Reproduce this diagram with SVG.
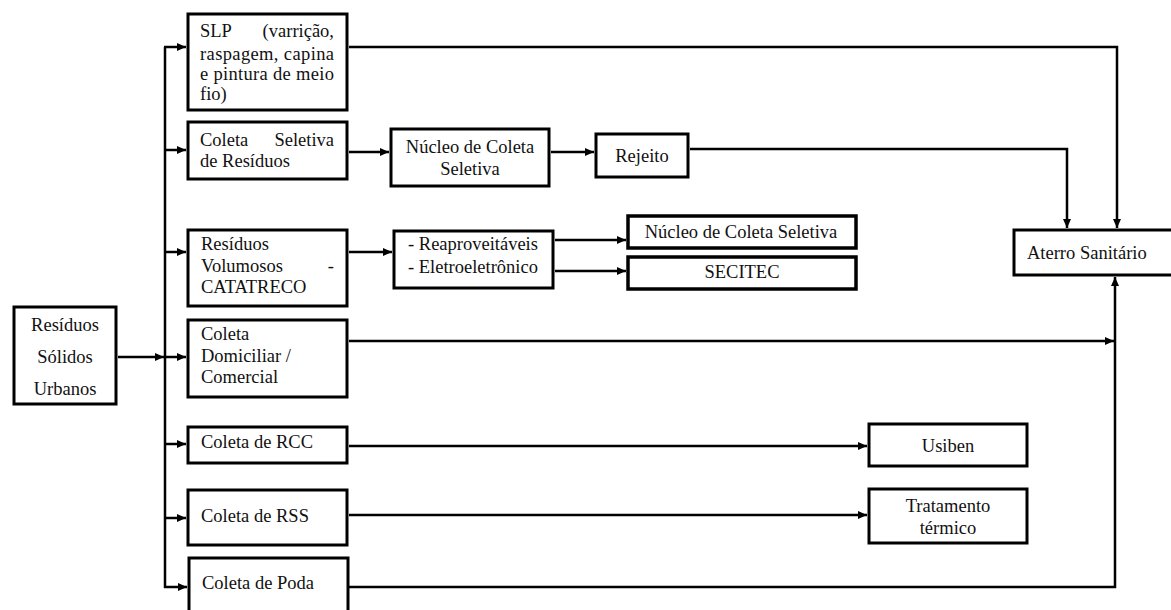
<svg xmlns="http://www.w3.org/2000/svg" width="1171" height="610" viewBox="0 0 1171 610">
<style>
.box{fill:#fff;stroke:#000;stroke-width:3}
.t{font-family:"Liberation Serif","Times New Roman",serif;font-size:18.5px;fill:#111}
.c{text-anchor:middle}
.ln{fill:none;stroke:#000;stroke-width:2.5}
</style>
<defs>
<marker id="ar" markerUnits="userSpaceOnUse" markerWidth="10" markerHeight="10" refX="9" refY="4" orient="auto">
<path d="M0,0 L9,4 L0,8 z" fill="#000"/>
</marker>
</defs>
<g id="connectors">
<line class="ln" x1="165" y1="47" x2="165" y2="588"/>
<line class="ln" x1="164" y1="47" x2="186" y2="47" marker-end="url(#ar)"/>
<line class="ln" x1="164" y1="150" x2="186" y2="150" marker-end="url(#ar)"/>
<line class="ln" x1="164" y1="252" x2="186" y2="252" marker-end="url(#ar)"/>
<line class="ln" x1="118" y1="357" x2="164" y2="357" marker-end="url(#ar)"/>
<line class="ln" x1="164" y1="357" x2="186" y2="357" marker-end="url(#ar)"/>
<line class="ln" x1="164" y1="444" x2="186" y2="444" marker-end="url(#ar)"/>
<line class="ln" x1="164" y1="518" x2="186" y2="518" marker-end="url(#ar)"/>
<line class="ln" x1="164" y1="587" x2="187" y2="587" marker-end="url(#ar)"/>
<polyline class="ln" points="349,47 1117,47 1117,228" marker-end="url(#ar)"/>
<line class="ln" x1="349" y1="152" x2="389" y2="152" marker-end="url(#ar)"/>
<line class="ln" x1="551" y1="152" x2="594" y2="152" marker-end="url(#ar)"/>
<polyline class="ln" points="690,149 1067,149 1067,228" marker-end="url(#ar)"/>
<line class="ln" x1="349" y1="252" x2="392" y2="252" marker-end="url(#ar)"/>
<line class="ln" x1="555" y1="240" x2="626" y2="240" marker-end="url(#ar)"/>
<line class="ln" x1="555" y1="271" x2="626" y2="271" marker-end="url(#ar)"/>
<line class="ln" x1="349" y1="341" x2="1114" y2="341" marker-end="url(#ar)"/>
<line class="ln" x1="349" y1="446" x2="867" y2="446" marker-end="url(#ar)"/>
<line class="ln" x1="349" y1="515" x2="867" y2="515" marker-end="url(#ar)"/>
<polyline class="ln" points="349,587 1115,587 1115,277" marker-end="url(#ar)"/>
</g>
<g id="slp">
<rect class="box" x="188" y="14" width="159" height="96"/>
<text class="t" y="37"><tspan x="200">SLP</tspan><tspan x="334" text-anchor="end">(varrição,</tspan></text>
<text class="t" x="200" y="60" textLength="134" lengthAdjust="spacing">raspagem, capina</text>
<text class="t" x="200" y="80" textLength="134" lengthAdjust="spacing">e pintura de meio</text>
<text class="t" x="200" y="100">fio)</text>
</g>
<g id="coleta-seletiva">
<rect class="box" x="188" y="122" width="159" height="57"/>
<text class="t" y="146"><tspan x="200">Coleta</tspan><tspan x="334" text-anchor="end">Seletiva</tspan></text>
<text class="t" x="200" y="167">de Resíduos</text>
</g>
<g id="nucleo1">
<rect class="box" x="391" y="129" width="158" height="57"/>
<text class="t c" x="470" y="153">Núcleo de Coleta</text>
<text class="t c" x="470" y="175">Seletiva</text>
</g>
<g id="rejeito">
<rect class="box" x="596" y="134" width="92" height="43"/>
<text class="t c" x="642" y="162">Rejeito</text>
</g>
<g id="volumosos">
<rect class="box" x="188" y="230" width="159" height="76"/>
<text class="t" x="201" y="250">Resíduos</text>
<text class="t" y="272"><tspan x="201">Volumosos</tspan><tspan x="334" text-anchor="end">-</tspan></text>
<text class="t" x="201" y="293">CATATRECO</text>
</g>
<g id="reaproveitaveis">
<rect class="box" x="394" y="231" width="159" height="57"/>
<text class="t" x="408" y="250">- Reaproveitáveis</text>
<text class="t" x="408" y="273">- Eletroeletrônico</text>
</g>
<g id="nucleo2">
<rect class="box" x="628" y="216" width="228" height="32" style="stroke-width:3.5"/>
<text class="t c" x="741" y="238">Núcleo de Coleta Seletiva</text>
</g>
<g id="secitec">
<rect class="box" x="628" y="257" width="228" height="32" style="stroke-width:3.5"/>
<text class="t c" x="742" y="278">SECITEC</text>
</g>
<g id="aterro">
<rect class="box" x="1014" y="230" width="170" height="45"/>
<text class="t" x="1027" y="259">Aterro Sanitário</text>
</g>
<g id="rsu">
<rect class="box" x="14" y="307" width="102" height="97"/>
<text class="t c" x="65" y="331">Resíduos</text>
<text class="t c" x="65" y="363">Sólidos</text>
<text class="t c" x="65" y="395">Urbanos</text>
</g>
<g id="domiciliar">
<rect class="box" x="188" y="320" width="159" height="77"/>
<text class="t" x="201" y="340">Coleta</text>
<text class="t" x="201" y="362">Domiciliar /</text>
<text class="t" x="201" y="383">Comercial</text>
</g>
<g id="rcc">
<rect class="box" x="188" y="427" width="159" height="36"/>
<text class="t" x="201" y="448">Coleta de RCC</text>
</g>
<g id="rss">
<rect class="box" x="188" y="490" width="159" height="55"/>
<text class="t" x="201" y="522">Coleta de RSS</text>
</g>
<g id="poda">
<rect class="box" x="189" y="558" width="159" height="70"/>
<text class="t" x="202" y="589">Coleta de Poda</text>
</g>
<g id="usiben">
<rect class="box" x="869" y="424" width="158" height="42"/>
<text class="t c" x="948" y="452">Usiben</text>
</g>
<g id="tratamento">
<rect class="box" x="869" y="489" width="158" height="54"/>
<text class="t c" x="948" y="512">Tratamento</text>
<text class="t c" x="948" y="534">térmico</text>
</g>
</svg>
